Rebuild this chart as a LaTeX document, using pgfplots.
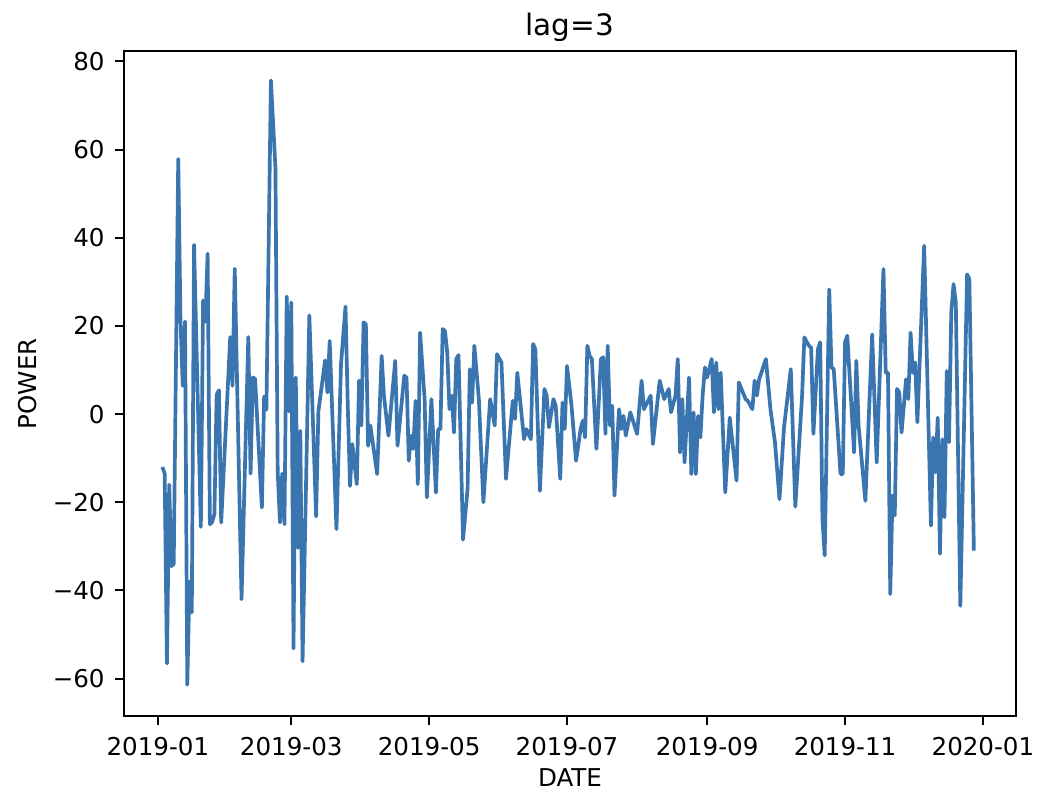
\documentclass[border=0pt]{standalone}
\usepackage{fontspec}
\setmainfont{DejaVu Sans}
\usepackage{pgfplots}
\pgfplotsset{compat=1.18}
\definecolor{pline}{RGB}{59,117,175}

\begin{document}
\begin{tikzpicture}
\path[use as bounding box] (-55.05pt,-39.6pt) rectangle (405.8pt,318.1pt);
\begin{axis}[
  at={(0,0)}, anchor=south west,
  scale only axis, width=396pt, height=295.5pt,
  xmin=-15.0, xmax=379.6, ymin=-68.6, ymax=82.4,
  xtick={0,59,120,181,243,304,365},
  xticklabels={2019-01,2019-03,2019-05,2019-07,2019-09,2019-11,2020-01},
  ytick={-60,-40,-20,0,20,40,60,80},
  yticklabels={−60,−40,−20,0,20,40,60,80},
  tick align=outside, tick pos=left,
  major tick length=3.8pt,
  every tick/.style={black, line width=0.87pt},
  axis line style={line width=0.87pt},
  tick label style={font=\fontsize{10.9}{13}\selectfont},
  xticklabel style={anchor=north, inner sep=0pt, yshift=-5.1pt},
  yticklabel style={anchor=east, inner sep=0pt, xshift=-4.6pt},
  every axis title shift=0pt,
  title={lag=3},
  title style={font=\fontsize{13.1}{15}\selectfont, at={(axis description cs:0.5,1)}, anchor=base, yshift=6.7pt, inner sep=0pt},
  xlabel={DATE}, ylabel={POWER},
  xlabel style={font=\fontsize{10.9}{13}\selectfont, at={(axis description cs:0.5,-0.092)}, anchor=center, inner sep=0pt},
  ylabel style={font=\fontsize{10.9}{13}\selectfont, at={(axis description cs:-0.108,0.5)}, anchor=center, inner sep=0pt},
]
\addplot[pline, line width=1.64pt, line join=round, mark=none] coordinates {
(2,-12) (3,-13.5) (4,-56.6) (5,-16) (6,-34.5) (7,-34) (9,57.9) (10,21) (11,6.4) (12,21)
(13,-61.4) (14,-38) (15,-45) (16,38.4) (19,-25.6) (20,25.8) (21,21) (22,36.4) (23,-25) (24,-24.5)
(25,-22.7) (26,4.4) (27,5.4) (28,-24.6) (32,17.5) (33,6.4) (34,33) (37,-42) (40,17.5) (41,-13.5)
(42,8.3) (43,8) (46,-21.2) (47,4) (48,1) (50,75.7) (52,55.8) (53,-13) (54,-24.6) (55,-13.5)
(56,-25) (57,26.7) (58,0.6) (59,25.3) (60,-53.2) (61,8.3) (62,-30.4) (63,-3.8) (64,-56.1) (67,22.4)
(70,-23.2) (71,0.6) (74,12.2) (75,4.9) (76,16.6) (79,-26.1) (81,11.2) (83,24.4) (84,1.9) (85,-16.3)
(86,-6.8) (88,-15.9) (89,7.6) (90,-2.6) (91,20.8) (92,20.4) (93,-7.2) (94,-2.6) (97,-13.6) (99,13.2)
(100,4.2) (102,-4.9) (105,12.1) (106,-7.2) (109,8.7) (110,8.3) (111,-10.6) (112,-4.9) (113,-7.9) (114,3)
(115,-15.9) (116,18.5) (118,3.4) (119,-18.9) (121,3.4) (123,-17.8) (124,-3.4) (125,-3.4) (126,19.3) (127,18.9)
(128,14) (129,1.1) (130,4.2) (131,-4.2) (132,12.5) (133,13.4) (135,-28.5) (137,-17) (138,10.2) (139,2.6)
(140,15.5) (142,3.4) (144,-20) (147,3.4) (149,-2.6) (150,13.6) (152,11.7) (154,-14.7) (157,3) (158,-1.1)
(159,9.4) (162,-5.7) (163,-3.4) (165,-5.7) (166,15.9) (167,14.7) (169,-17.4) (171,5.7) (172,4.2) (173,-3)
(175,3.4) (176,1.9) (178,-14.7) (179,2.6) (180,-3.4) (181,10.9) (183,1.9) (185,-10.6) (187,-3.4) (188,-1.5)
(189,-5.3) (190,15.5) (191,13.2) (192,12.5) (194,-7.9) (196,12.5) (197,12.9) (198,-4.5) (199,15.5) (200,-2.6)
(201,1.9) (202,-18.5) (204,1.1) (205,-3.4) (206,-0.4) (207,-4.9) (209,0.4) (212,-4.5) (214,7.6) (215,1.1)
(218,4.2) (219,-6.8) (222,7.6) (224,3.4) (226,5.7) (227,0.4) (229,4.2) (230,12.5) (231,-8.7) (232,3.4)
(233,-11) (235,8.3) (236,-13.6) (237,0.4) (238,-13.6) (239,-0.4) (240,-5.3) (241,4.2) (242,10.6) (243,8.3)
(245,12.5) (246,0.4) (247,11.7) (248,1.1) (249,9.4) (251,-17.8) (253,-0.8) (256,-15.1) (257,7.2) (260,3.4)
(261,3) (263,1.1) (264,7.6) (265,4.2) (266,7.9) (269,12.5) (271,1.1) (273,-6.4) (275,-19.3) (277,-3)
(280,10.2) (282,-21) (285,4.2) (286,17.4) (288,15.5) (289,15.1) (290,-4.5) (292,14.7) (293,16.3) (294,-23.8)
(295,-32.1) (297,28.3) (298,10.6) (299,10.2) (302,-13.6) (303,-13.6) (304,16.3) (305,17.8) (308,-8.7) (309,12.1)
(310,-2.6) (313,-19.7) (316,18.1) (318,-11) (321,32.9) (322,9.4) (323,9.4) (324,-40.8) (325,-18.5) (326,-23)
(327,5.7) (328,4.9) (329,-4.2) (331,7.9) (332,3.4) (333,18.5) (334,9.4) (335,11.7) (336,-1.9) (339,38.2)
(342,-25.3) (343,-5.3) (344,-13.2) (345,-0.8) (346,-31.7) (347,-5.7) (348,-23.4) (349,9.8) (350,-6.4) (351,23.1)
(352,29.5) (353,25.3) (355,-43.5) (358,31.7) (359,30.6) (361,-31)
};
\end{axis}
\end{tikzpicture}
\end{document}
